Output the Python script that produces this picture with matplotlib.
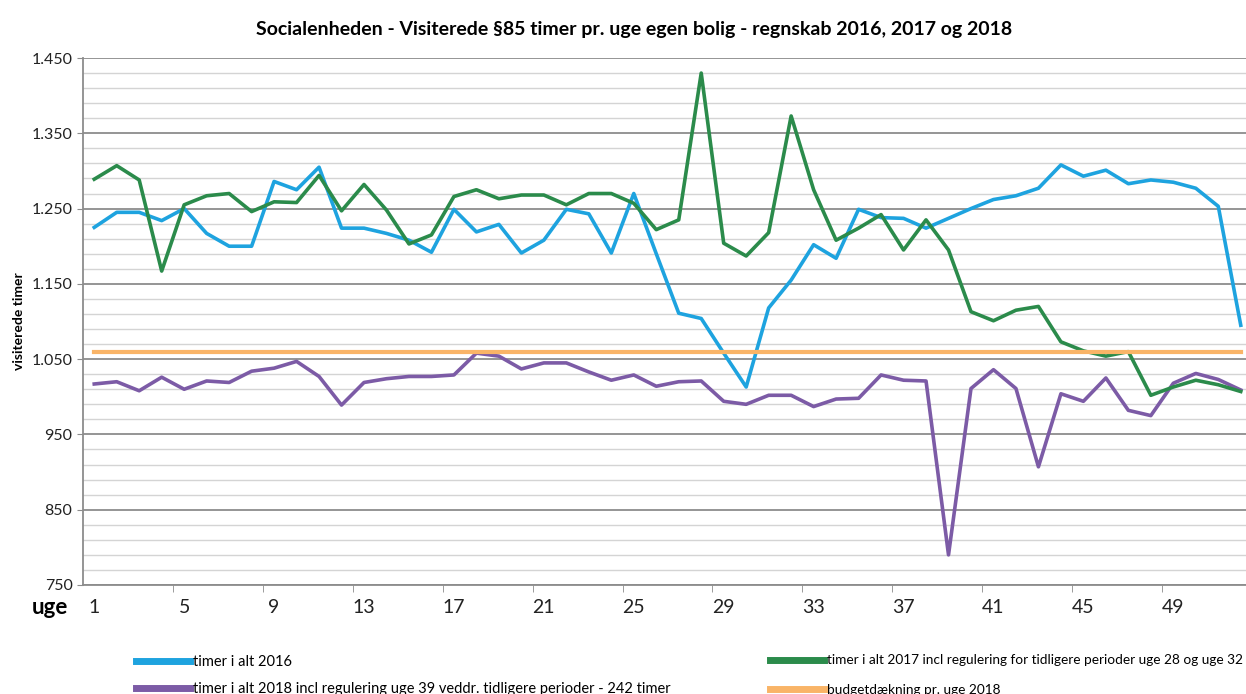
import matplotlib
matplotlib.use("Agg")
import matplotlib.pyplot as plt
from matplotlib.ticker import FuncFormatter

plt.rcParams['font.family'] = ['Lato', 'DejaVu Sans']

weeks = list(range(1, 53))

timer_2016 = [1225, 1245, 1245, 1234, 1250, 1217, 1200, 1200, 1286, 1275,
              1305, 1224, 1224, 1217, 1208, 1192, 1249, 1219, 1229, 1191,
              1208, 1249, 1243, 1191, 1270, 1190, 1111, 1104, 1058, 1013,
              1118, 1155, 1202, 1184, 1249, 1238, 1237, 1224, 1237, 1250,
              1262, 1267, 1277, 1308, 1293, 1301, 1283, 1288, 1285, 1277,
              1253, 1095]

timer_2017 = [1289, 1307, 1288, 1167, 1255, 1267, 1270, 1246, 1259, 1258,
              1294, 1247, 1282, 1248, 1203, 1215, 1266, 1275, 1263, 1268,
              1268, 1255, 1270, 1270, 1257, 1222, 1235, 1430, 1204, 1187,
              1218, 1373, 1275, 1208, 1224, 1242, 1195, 1235, 1195, 1113,
              1101, 1115, 1120, 1073, 1061, 1054, 1060, 1002, 1013, 1022,
              1016, 1007]

timer_2018 = [1017, 1020, 1008, 1026, 1010, 1021, 1019, 1034, 1038, 1047,
              1027, 989, 1019, 1024, 1027, 1027, 1029, 1058, 1054, 1037,
              1045, 1045, 1033, 1022, 1029, 1014, 1020, 1021, 994, 990,
              1002, 1002, 987, 997, 998, 1029, 1022, 1021, 790, 1011,
              1036, 1011, 907, 1004, 994, 1025, 982, 975, 1018, 1031,
              1023, 1009]

budget_2018 = [1060] * 52

labels = {
    '2016': 'timer i alt 2016',
    '2017': 'timer i alt 2017 incl regulering for tidligere perioder uge 28 og uge 32',
    '2018': 'timer i alt 2018 incl regulering uge 39 veddr. tidligere perioder - 242 timer',
    'budget': 'budgetdækning pr. uge 2018',
}

c_blue = '#1ea3df'
c_green = '#2b8b4b'
c_purple = '#7c5ba6'
c_orange = '#f9b467'

fig = plt.figure(figsize=(12.46, 6.94), dpi=100)
ax = fig.add_axes([83 / 1246, 109 / 694, (1252 - 83) / 1246, 527 / 694])

# grid: light every 20, darker every 100
for v in range(750, 1451, 20):
    if (v - 750) % 100 == 0:
        ax.axhline(v, color='#8c8c8c', lw=1.3, zorder=0)
    else:
        ax.axhline(v, color='#d4d4d4', lw=1.0, zorder=0)

l16, = ax.plot(weeks, timer_2016, color=c_blue, lw=2.6, label=labels['2016'])
l18, = ax.plot(weeks, timer_2018, color=c_purple, lw=2.6, label=labels['2018'])
l17, = ax.plot(weeks, timer_2017, color=c_green, lw=2.6, label=labels['2017'])
lb, = ax.plot(weeks, budget_2018, color=c_orange, lw=3.0, label=labels['budget'])

ax.set_xlim(0.5, 52.5)
ax.set_ylim(750, 1450)

ax.set_yticks(range(750, 1451, 100))
ax.yaxis.set_major_formatter(FuncFormatter(lambda v, p: f'{int(v):,}'.replace(',', '.')))
ax.tick_params(axis='y', labelsize=11.5, length=4, color='#8c8c8c', colors='#222222')

ax.set_xticks(range(1, 53, 4))
ax.set_xticks([x + 0.5 for x in range(4, 52, 4)], minor=True)
ax.tick_params(axis='x', which='major', length=0, labelsize=14, pad=10, colors='#222222')
ax.tick_params(axis='x', which='minor', length=5, color='#8c8c8c')

for s in ['top', 'right']:
    ax.spines[s].set_visible(False)
for s in ['left', 'bottom']:
    ax.spines[s].set_color('#8c8c8c')
    ax.spines[s].set_linewidth(1.3)

ax.set_ylabel('visiterede timer', fontsize=10, fontweight='bold', labelpad=5)
fig.text(50 / 1246, 1 - 608 / 694, 'uge', fontsize=16, fontweight='bold',
         ha='center', va='center')

fig.text(0.5 + 11 / 1246, 1 - 30 / 694,
         'Socialenheden - Visiterede §85 timer pr. uge egen bolig - regnskab 2016, 2017 og 2018',
         fontsize=14, fontweight='bold', ha='center', va='center')

leg_kw = dict(frameon=False, handletextpad=0.25, loc='upper left', borderaxespad=0)
fig.legend(handles=[l16, l18], bbox_to_anchor=(130 / 1246, 1 - 649 / 694),
           fontsize=10.5, handlelength=3.7, labelspacing=0.92, **leg_kw)
fig.legend(handles=[l17, lb], bbox_to_anchor=(765 / 1246, 1 - 649 / 694),
           fontsize=9.8, handlelength=3.9, labelspacing=1.3, **leg_kw)
for h in fig.legends:
    for line in h.get_lines():
        line.set_linewidth(5)

fig.savefig('out.png', dpi=100)
